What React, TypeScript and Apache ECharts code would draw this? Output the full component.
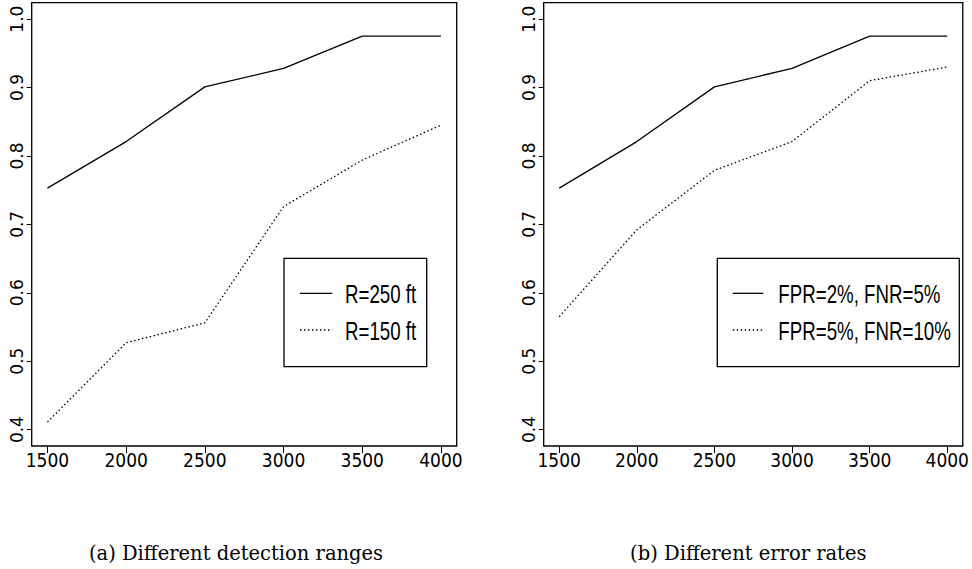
import React, { useEffect, useRef } from "react";
import * as echarts from "echarts";

const xValues = [1500, 2000, 2500, 3000, 3500, 4000];
const xTicks = [1500, 2000, 2500, 3000, 3500, 4000];
const yTicks = [0.4, 0.5, 0.6, 0.7, 0.8, 0.9, 1.0];
const rangeR250 = [0.753, 0.821, 0.901, 0.928, 0.975, 0.975];
const rangeR150 = [0.411, 0.527, 0.556, 0.726, 0.794, 0.845];
const errLow = [0.753, 0.821, 0.901, 0.928, 0.975, 0.975];
const errHigh = [0.565, 0.692, 0.779, 0.821, 0.91, 0.93];
const legendA = ["R=250 ft", "R=150 ft"];
const legendB = ["FPR=2%, FNR=5%", "FPR=5%, FNR=10%"];
const captions = ["(a) Different detection ranges", "(b) Different error rates"];

const pairs = (ys: number[]) => xValues.map((x, i) => [x, ys[i]]);

const DOT: number[] = [1.5, 2.5];

function makeXAxis(gridIndex: number) {
  return {
    type: "value",
    gridIndex,
    min: 1400,
    max: 4100,
    axisLine: { show: false },
    splitLine: { show: false },
    axisTick: {
      show: true,
      length: 7,
      customValues: xTicks,
      lineStyle: { color: "#000", width: 1 },
    },
    axisLabel: {
      show: true,
      customValues: xTicks,
      margin: 4,
      color: "#000",
      fontSize: 19,
      fontFamily: "'Liberation Sans Narrow', 'DejaVu Sans Condensed', 'Liberation Sans', sans-serif",
      formatter: (v: number) => String(v),
    },
  };
}

function makeYAxis(gridIndex: number) {
  return {
    type: "value",
    gridIndex,
    min: 0.376,
    max: 1.024,
    axisLine: { show: false },
    splitLine: { show: false },
    axisTick: {
      show: true,
      length: 5,
      customValues: yTicks,
      lineStyle: { color: "#000", width: 1 },
    },
    axisLabel: {
      show: true,
      customValues: yTicks,
      rotate: 90,
      margin: 6,
      color: "#000",
      fontSize: 17,
      fontFamily: "'DejaVu Sans', sans-serif",
      formatter: (v: number) => v.toFixed(1),
    },
  };
}

function legendGraphic(
  bx: number,
  by: number,
  bw: number,
  bh: number,
  lx1: number,
  lx2: number,
  tx: number,
  ys: number[],
  labels: string[]
) {
  return {
    type: "group",
    children: [
      {
        type: "rect",
        shape: { x: bx, y: by, width: bw, height: bh },
        style: { fill: "#fff", stroke: "#000", lineWidth: 1.3 },
        z: 100,
      },
      {
        type: "line",
        shape: { x1: lx1, y1: ys[0], x2: lx2, y2: ys[0] },
        style: { stroke: "#000", lineWidth: 1.3 },
        z: 101,
      },
      {
        type: "line",
        shape: { x1: lx1, y1: ys[1], x2: lx2, y2: ys[1] },
        style: { stroke: "#000", lineWidth: 1.3, lineDash: DOT },
        z: 101,
      },
      ...labels.map((t, i) => ({
        type: "text",
        x: tx,
        y: ys[i] + 1,
        scaleX: 0.72,
        z: 101,
        style: {
          text: t,
          x: 0,
          y: 0,
          fill: "#000",
          font: "26px 'Liberation Sans', Arial, sans-serif",
          textAlign: "left",
          textVerticalAlign: "middle",
        },
      })),
    ],
  };
}

export default function App() {
  const ref = useRef<HTMLDivElement>(null);

  useEffect(() => {
    if (!ref.current) return;
    const chart = echarts.init(ref.current, null, { renderer: "svg" });
    const solid = { color: "#000", width: 1.3, type: "solid" };
    const dotted = { color: "#000", width: 1.3, type: DOT };
    chart.setOption({
      animation: false,
      backgroundColor: "#fff",
      grid: [
        {
          left: 31.7,
          top: 2.7,
          width: 425,
          height: 443.3,
          show: true,
          borderColor: "#000",
          borderWidth: 1.3,
          backgroundColor: "transparent",
        },
        {
          left: 543.7,
          top: 2.7,
          width: 425.6,
          height: 443.3,
          show: true,
          borderColor: "#000",
          borderWidth: 1.3,
          backgroundColor: "transparent",
        },
      ],
      xAxis: [makeXAxis(0), makeXAxis(1)],
      yAxis: [makeYAxis(0), makeYAxis(1)],
      series: [
        {
          name: legendA[0],
          type: "line",
          xAxisIndex: 0,
          yAxisIndex: 0,
          data: pairs(rangeR250),
          symbol: "none",
          lineStyle: solid,
        },
        {
          name: legendA[1],
          type: "line",
          xAxisIndex: 0,
          yAxisIndex: 0,
          data: pairs(rangeR150),
          symbol: "none",
          lineStyle: dotted,
        },
        {
          name: legendB[0],
          type: "line",
          xAxisIndex: 1,
          yAxisIndex: 1,
          data: pairs(errLow),
          symbol: "none",
          lineStyle: solid,
        },
        {
          name: legendB[1],
          type: "line",
          xAxisIndex: 1,
          yAxisIndex: 1,
          data: pairs(errHigh),
          symbol: "none",
          lineStyle: dotted,
        },
      ],
      graphic: [
        legendGraphic(284, 258.3, 142.7, 108.4, 300, 332.3, 345, [293.3, 330], legendA),
        legendGraphic(717.3, 258.3, 242, 108.4, 732.7, 763.3, 778.3, [293.3, 330], legendB),
        {
          type: "text",
          x: 236,
          y: 553,
          style: {
            text: captions[0],
            fill: "#000",
            font: "19.5px 'DejaVu Serif', serif",
            textAlign: "center",
            textVerticalAlign: "middle",
          },
        },
        {
          type: "text",
          x: 748.3,
          y: 553,
          style: {
            text: captions[1],
            fill: "#000",
            font: "19.5px 'DejaVu Serif', serif",
            textAlign: "center",
            textVerticalAlign: "middle",
          },
        },
      ],
    });
    return () => chart.dispose();
  }, []);

  return (
    <div
      ref={ref}
      style={{ position: "fixed", left: 0, top: 0, width: 972, height: 569, background: "#fff" }}
    />
  );
}
